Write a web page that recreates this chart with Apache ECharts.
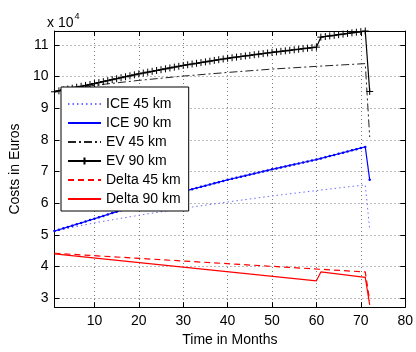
<!DOCTYPE html>
<html>
<head>
<meta charset="utf-8">
<script src="https://cdn.jsdelivr.net/npm/echarts@6/dist/echarts.min.js"></script>
<style>
html, body { margin: 0; padding: 0; background: #fff; }
#main { width: 416px; height: 352px; }
</style>
</head>
<body>
<div id="main"></div>
<script>
// months 1..72
var months = [1, 2, 3, 4, 5, 6, 7, 8, 9, 10, 11, 12, 13, 14, 15, 16, 17, 18, 19, 20,
    21, 22, 23, 24, 25, 26, 27, 28, 29, 30, 31, 32, 33, 34, 35, 36, 37, 38, 39, 40,
    41, 42, 43, 44, 45, 46, 47, 48, 49, 50, 51, 52, 53, 54, 55, 56, 57, 58, 59, 60,
    61, 62, 63, 64, 65, 66, 67, 68, 69, 70, 71, 72];

// ICE 90 km, one value per month (euros)
var ice90 = [51200, 51630, 52070, 52500, 52930, 53370, 53800, 54230, 54670, 55100,
    55550, 56000, 56450, 56900, 57350, 57800, 58250, 58700, 59150, 59600,
    60010, 60420, 60830, 61240, 61650, 62060, 62470, 62880, 63290, 63700,
    64070, 64440, 64810, 65180, 65550, 65920, 66290, 66660, 67030, 67400,
    67730, 68060, 68390, 68720, 69050, 69380, 69710, 70040, 70370, 70700,
    71010, 71320, 71630, 71940, 72250, 72560, 72870, 73180, 73490, 73800,
    74160, 74530, 74890, 75250, 75620, 75980, 76350, 76710, 77070, 77440,
    77800, 67400];

// EV 90 km, one value per month (euros)
var ev90 = [95200, 95490, 95780, 96070, 96350, 96650, 96940, 97220, 97520, 97800,
    98110, 98420, 98720, 99030, 99330, 99640, 99950, 100250, 100560, 100860,
    101130, 101400, 101660, 101930, 102190, 102460, 102730, 102990, 103260, 103520,
    103750, 103980, 104200, 104430, 104650, 104880, 105110, 105330, 105560, 105780,
    105970, 106160, 106340, 106530, 106710, 106900, 107090, 107270, 107460, 107640,
    107810, 107980, 108140, 108310, 108470, 108640, 108810, 108970, 109140, 109300,
    112460, 112660, 112850, 113040, 113240, 113430, 113630, 113820, 114010, 114210,
    114400, 95300];

// lines without markers: [month, euros]
var ice45 = [[1, 51200], [10, 53800], [20, 56200], [30, 58400], [40, 60400],
    [50, 62300], [60, 64000], [71, 65800], [72, 51700]];
var ev45 = [[1, 95400], [10, 97240], [20, 98800], [30, 100160], [40, 101310],
    [50, 102370], [60, 103230], [71, 104100], [72, 80900]];
var delta45 = [[1, 44200], [71, 38300], [72, 29200]];
var delta90 = [[1, 44000], [60, 35500], [61, 38300], [71, 36600], [72, 27900]];

var xTicks = [10, 20, 30, 40, 50, 60, 70, 80];
var yTicks = [30000, 40000, 50000, 60000, 70000, 80000, 90000, 100000, 110000];

function pairs(vals) {
    return vals.map(function (v, i) { return [months[i], v]; });
}

var FONT = 'Liberation Sans';
var FS = 14;
var gridLine = { show: true, lineStyle: { color: '#777', width: 1, type: [1, 3] } };
var noMark = { opacity: 0 };

var option = {
    animation: false,
    backgroundColor: '#fff',
    textStyle: { fontFamily: FONT },
    grid: { left: 47, right: 8, top: 31, bottom: 37 },
    graphic: [{
        type: 'text',
        left: 47,
        top: 12,
        style: {
            text: '{a|x 10}{b|4}',
            rich: {
                a: { fontSize: FS, fontFamily: FONT, fill: '#000', padding: [6, 0, 0, 0] },
                b: { fontSize: 9, fontFamily: FONT, fill: '#000', padding: [0, 0, 7, 1] }
            }
        }
    }],
    legend: {
        orient: 'vertical',
        left: 61,
        top: 87,
        width: 127,
        padding: [9, 8, 4, 6],
        itemGap: 3,
        itemWidth: 33,
        itemHeight: 9,
        backgroundColor: '#fff',
        borderColor: '#000',
        borderWidth: 1,
        textStyle: { fontSize: FS, fontFamily: FONT, color: '#000', lineHeight: 16 },
        data: [
            { name: 'ICE 45 km', itemStyle: noMark },
            { name: 'ICE 90 km', itemStyle: noMark },
            { name: 'EV 45 km', itemStyle: noMark },
            'EV 90 km',
            { name: 'Delta 45 km', itemStyle: noMark },
            { name: 'Delta 90 km', itemStyle: noMark }
        ]
    },
    xAxis: [{
        type: 'value',
        min: 1,
        max: 80,
        position: 'bottom',
        name: 'Time in Months',
        nameLocation: 'middle',
        nameGap: 20,
        nameTextStyle: { fontSize: FS, fontFamily: FONT, color: '#000' },
        axisLine: { onZero: false, lineStyle: { color: '#000', width: 1 } },
        axisTick: { inside: true, length: 5, customValues: xTicks, lineStyle: { color: '#000' } },
        axisLabel: { customValues: xTicks, fontSize: FS, color: '#000', margin: 7 },
        splitLine: gridLine
    }, {
        type: 'value',
        min: 1,
        max: 80,
        position: 'top',
        axisLine: { onZero: false, lineStyle: { color: '#000', width: 1 } },
        axisTick: { inside: true, length: 5, customValues: xTicks, lineStyle: { color: '#000' } },
        axisLabel: { show: false },
        splitLine: { show: false }
    }],
    yAxis: [{
        type: 'value',
        min: 27200,
        max: 114400,
        position: 'left',
        name: 'Costs in Euros',
        nameLocation: 'middle',
        nameGap: 27,
        nameTextStyle: { fontSize: FS, fontFamily: FONT, color: '#000' },
        axisLine: { onZero: false, lineStyle: { color: '#000', width: 1 } },
        axisTick: { inside: true, length: 5, customValues: yTicks, lineStyle: { color: '#000' } },
        axisLabel: {
            customValues: yTicks, fontSize: FS, color: '#000', margin: 6,
            formatter: function (v) { return String(Math.round(v / 10000)); }
        },
        splitLine: gridLine
    }, {
        type: 'value',
        min: 27200,
        max: 114400,
        position: 'right',
        axisLine: { onZero: false, lineStyle: { color: '#000', width: 1 } },
        axisTick: { inside: true, length: 5, customValues: yTicks, lineStyle: { color: '#000' } },
        axisLabel: { show: false },
        splitLine: { show: false }
    }],
    series: [{
        name: 'ICE 45 km',
        type: 'line',
        data: ice45,
        showSymbol: false,
        symbol: 'none',
        color: '#6f6fff',
        lineStyle: { color: '#6f6fff', width: 1, type: [1.5, 3] }
    }, {
        name: 'ICE 90 km',
        type: 'line',
        data: pairs(ice90),
        symbol: 'circle',
        symbolSize: 2.5,
        showAllSymbol: true,
        color: '#0000ff',
        itemStyle: { color: '#0000ff' },
        lineStyle: { color: '#0000ff', width: 1.2 }
    }, {
        name: 'EV 45 km',
        type: 'line',
        data: ev45,
        showSymbol: false,
        symbol: 'none',
        color: '#222',
        lineStyle: { color: '#222', width: 1, type: [8, 3, 2, 3] }
    }, {
        name: 'EV 90 km',
        type: 'line',
        data: pairs(ev90),
        symbol: 'path://M0,5L10,5M5,0L5,10',
        symbolSize: 7,
        showAllSymbol: true,
        color: '#000',
        itemStyle: { color: '#000', borderColor: '#000', borderWidth: 1 },
        lineStyle: { color: '#000', width: 1.2 }
    }, {
        name: 'Delta 45 km',
        type: 'line',
        data: delta45,
        showSymbol: false,
        symbol: 'none',
        color: '#ff0000',
        lineStyle: { color: '#ff0000', width: 1.2, type: [6, 4] }
    }, {
        name: 'Delta 90 km',
        type: 'line',
        data: delta90,
        showSymbol: false,
        symbol: 'none',
        color: '#ff0000',
        lineStyle: { color: '#ff0000', width: 1.2 }
    }]
};

var myChart = echarts.init(document.getElementById('main'));
myChart.setOption(option);
</script>
</body>
</html>
